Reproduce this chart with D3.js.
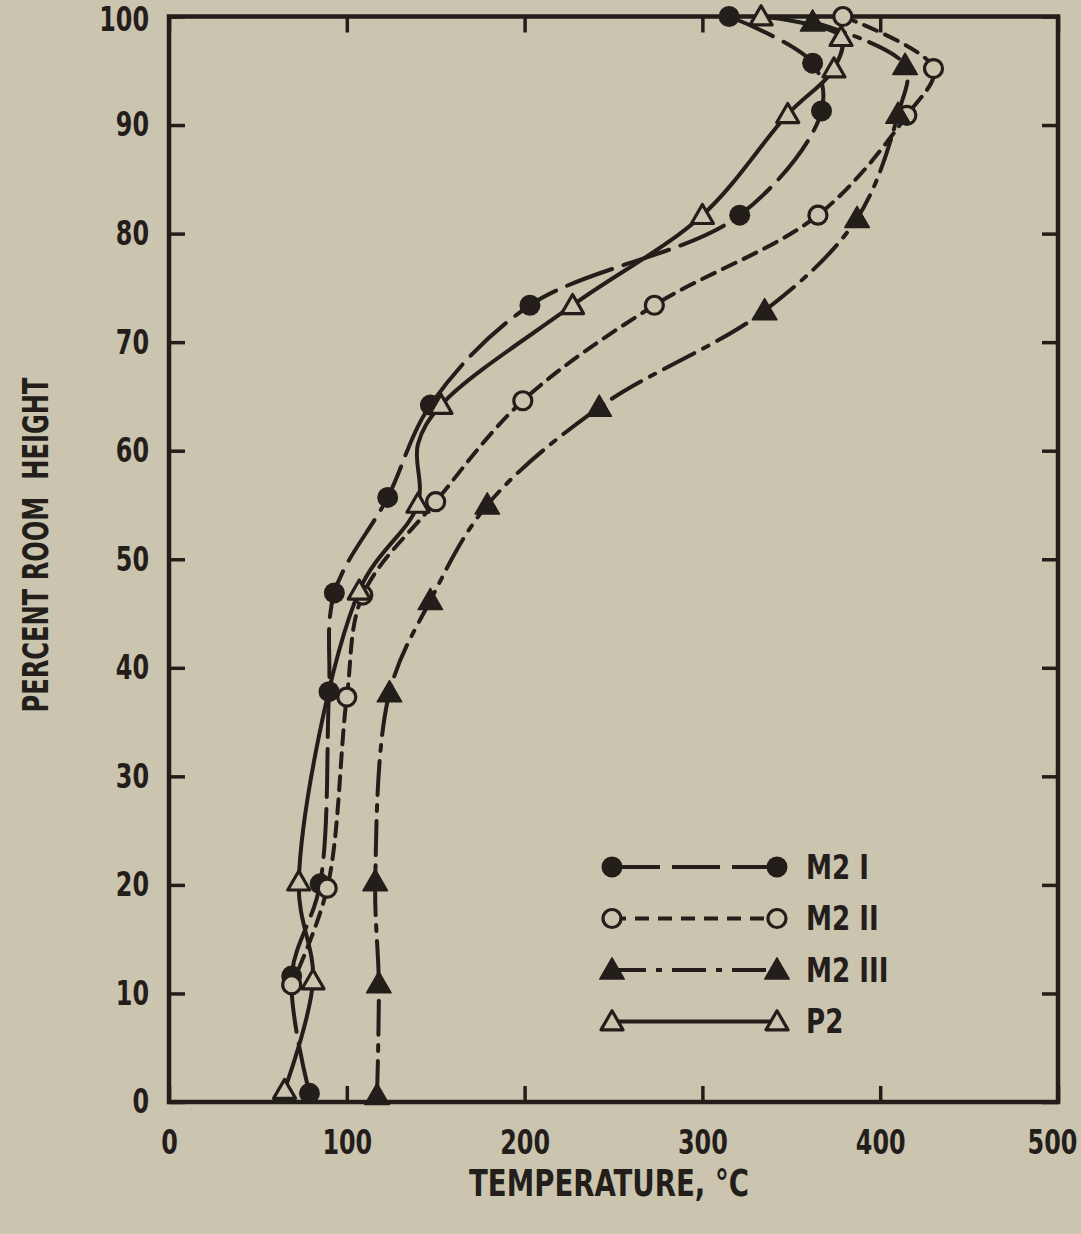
<!DOCTYPE html>
<html>
<head>
<meta charset="utf-8">
<script src="https://cdn.jsdelivr.net/npm/d3@7"></script>
<style>
  html, body { margin: 0; padding: 0; background: #cbc5b0; }
  svg { display: block; }
  text { font-family: "DejaVu Sans Condensed", "Liberation Sans Narrow", "Roboto Condensed", sans-serif; font-weight: bold; fill: #231e1a; }
</style>
</head>
<body>
<svg id="chart" width="1081" height="1234"></svg>
<script>
// ---- data ----
const seriesNames = ["M2 I", "M2 II", "M2 III", "P2"];

const m2iTemp   = [315, 362, 367, 321, 203, 147, 123, 93, 90, 85, 69, 79];
const m2iHeight = [100, 95.7, 91.3, 81.7, 73.4, 64.2, 55.7, 46.9, 37.8, 20.1, 11.6, 0.8];

const m2iiTemp   = [379, 430, 415, 365, 273, 199, 150, 109, 100, 89, 69];
const m2iiHeight = [100, 95.2, 90.9, 81.7, 73.4, 64.6, 55.3, 46.7, 37.3, 19.7, 10.8];

const m2iiiTemp   = [362, 414, 410, 387, 335, 242, 179, 147, 124, 116, 118, 117];
const m2iiiHeight = [99.5, 95.5, 91, 81.4, 72.9, 64, 55, 46.2, 37.7, 20.3, 10.9, 0.6];

const p2Temp   = [333, 378, 374, 348, 300, 227, 153, 140, 140, 107, 73, 81, 65];
const p2Height = [100, 98.1, 95.2, 91, 81.7, 73.4, 64.2, 60.6, 55.1, 47.1, 20.3, 11.2, 1.1];
const p2Marked = [true, true, true, true, true, true, true, false, true, true, true, true, true];

const xTicks = [0, 100, 200, 300, 400, 500];
const yTicks = [0, 10, 20, 30, 40, 50, 60, 70, 80, 90, 100];
const xTitle = "TEMPERATURE, °C";
const yTitle = "PERCENT ROOM  HEIGHT";

// ---- layout ----
const ink = "#231e1a";
const bg = "#cbc5b0";
const plotL = 169, plotR = 1058, plotT = 16.5, plotB = 1102;
const squeeze = 0.78;   // horizontal compression of tick labels (condensed type)

const svg = d3.select("#chart");
svg.append("rect").attr("width", 1081).attr("height", 1234).attr("fill", bg);

const x = d3.scaleLinear().domain([0, 500]).range([plotL, plotR]);
const y = d3.scaleLinear().domain([0, 100]).range([plotB, plotT]);

// axes (ticks pointing inward)
const tickLen = 16;
function styleAxis(g) {
  g.select(".domain").remove();
  g.selectAll(".tick line").attr("stroke", ink).attr("stroke-width", 3.5);
  g.selectAll(".tick text").attr("fill", ink).style("font-size", "34px")
    .each(function () {
      const t = d3.select(this);
      const tx = +t.attr("x") || 0;
      t.attr("x", tx / squeeze).attr("transform", `scale(${squeeze},1)`);
    });
}
const xAxisG = svg.append("g").attr("transform", `translate(0,${plotB})`)
  .call(d3.axisBottom(x).tickValues(xTicks).tickSize(-tickLen).tickPadding(28).tickFormat(d3.format("d")))
  .call(styleAxis);
xAxisG.selectAll(".tick text").attr("y", 28)
  .attr("dx", d => d === 500 ? -6 / squeeze : 0);
svg.append("g").attr("transform", `translate(0,${plotT})`)
  .call(d3.axisTop(x).tickValues(xTicks).tickSize(-tickLen).tickFormat(""))
  .call(styleAxis);
const yAxisG = svg.append("g").attr("transform", `translate(${plotL},0)`)
  .call(d3.axisLeft(y).tickValues(yTicks).tickSize(-tickLen).tickPadding(20).tickFormat(d3.format("d")))
  .call(styleAxis);
yAxisG.selectAll(".tick text").filter(d => d === 100).attr("dy", "0.42em");
svg.append("g").attr("transform", `translate(${plotR},0)`)
  .call(d3.axisRight(y).tickValues(yTicks).tickSize(-tickLen).tickFormat(""))
  .call(styleAxis);

// frame
svg.append("rect").attr("x", plotL).attr("y", plotT)
  .attr("width", plotR - plotL).attr("height", plotB - plotT)
  .attr("fill", "none").attr("stroke", ink).attr("stroke-width", 4.5);

// titles
svg.append("text").attr("x", 609).attr("y", 1196).attr("text-anchor", "middle")
  .style("font-size", "37px").attr("textLength", 280).attr("lengthAdjust", "spacingAndGlyphs")
  .text(xTitle);
svg.append("text").attr("transform", "translate(48,545) rotate(-90)").attr("text-anchor", "middle")
  .style("font-size", "36px").attr("xml:space", "preserve")
  .attr("textLength", 335).attr("lengthAdjust", "spacingAndGlyphs").text(yTitle);

// series
const series = [
  { name: seriesNames[0], t: m2iTemp, h: m2iHeight, marked: m2iTemp.map(() => true), dash: "48,12", marker: "circle", filled: true },
  { name: seriesNames[1], t: m2iiTemp, h: m2iiHeight, marked: m2iiTemp.map(() => true), dash: "14,9", marker: "circle", filled: false },
  { name: seriesNames[2], t: m2iiiTemp, h: m2iiiHeight, marked: m2iiiTemp.map(() => true), dash: "34,10,6,10", marker: "triangle", filled: true },
  { name: seriesNames[3], t: p2Temp, h: p2Height, marked: p2Marked, dash: null, marker: "triangle", filled: false }
];

const line = d3.line().x(d => x(d[0])).y(d => y(d[1])).curve(d3.curveCatmullRom.alpha(0.5));

const plot = svg.append("g");
series.forEach(s => {
  const pts = s.t.map((t, i) => [t, s.h[i]]);
  plot.append("path").attr("d", line(pts)).attr("fill", "none")
    .attr("stroke", ink).attr("stroke-width", 4).attr("stroke-linecap", "round")
    .attr("stroke-dasharray", s.dash);
});

const triSym = d3.symbol().type(d3.symbolTriangle);
function drawMarker(g, s, cx, cy) {
  if (s.marker === "circle") {
    if (s.filled) {
      g.append("circle").attr("cx", cx).attr("cy", cy).attr("r", 10.5).attr("fill", ink);
    } else {
      g.append("circle").attr("cx", cx).attr("cy", cy).attr("r", 9).attr("fill", bg)
        .attr("stroke", ink).attr("stroke-width", 3.2);
    }
  } else {
    const size = s.filled ? 260 : 210;
    g.append("path").attr("d", triSym.size(size)()).attr("transform", `translate(${cx},${cy + 2})`)
      .attr("fill", s.filled ? ink : bg).attr("stroke", ink).attr("stroke-width", s.filled ? 1.5 : 3.2)
      .attr("stroke-linejoin", "round");
  }
}
series.forEach(s => {
  s.t.forEach((t, i) => {
    if (s.marked[i]) drawMarker(plot, s, x(t), y(s.h[i]));
  });
});

// legend
const legX1 = 612, legX2 = 777, legY0 = 867, legStep = 51.5;
series.forEach((s, i) => {
  const ly = legY0 + i * legStep;
  const g = svg.append("g");
  g.append("line").attr("x1", legX1).attr("x2", legX2).attr("y1", ly).attr("y2", ly)
    .attr("stroke", ink).attr("stroke-width", 4).attr("stroke-dasharray", s.dash);
  drawMarker(g, s, legX1, ly);
  drawMarker(g, s, legX2, ly);
  g.append("text").attr("x", 806).attr("y", ly + 12).style("font-size", "33px")
    .attr("transform", `translate(${806 * (1 - 0.88)},0) scale(0.88,1)`).text(s.name);
});
</script>
</body>
</html>
